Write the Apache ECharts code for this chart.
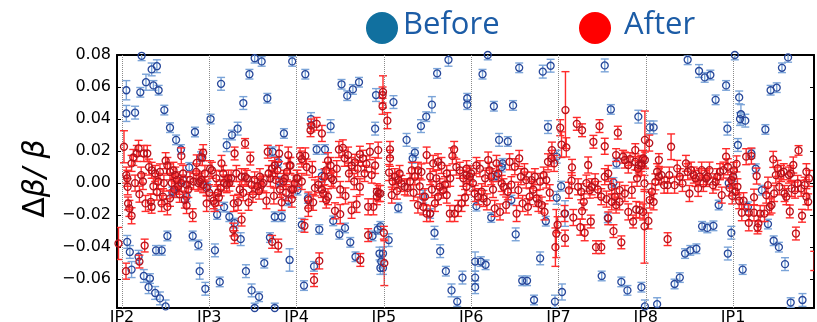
<!DOCTYPE html>
<html>
<head>
<meta charset="utf-8">
<script src="https://cdn.jsdelivr.net/npm/echarts@6/dist/echarts.min.js"></script>
<style>
  html, body { margin: 0; padding: 0; background: #fff; }
  #main { width: 817px; height: 322px; }
</style>
</head>
<body>
<div id="main"></div>
<script>
// IP markers along the ring, position in octants measured from IP2
const ipNames = ['IP2', 'IP3', 'IP4', 'IP5', 'IP6', 'IP7', 'IP8', 'IP1']
const ipPos = [0, 1, 2, 3, 4, 5, 6, 7]
const yTicks = [-0.06, -0.04, -0.02, 0, 0.02, 0.04, 0.06, 0.08]

// [s, dbeta/beta, error] before correction
const before = [
  [0.05, 0.058, 0.006], [0.05, 0.0435, 0.005], [0.15, 0.044, 0.004], [0.21, 0.0567, 0.003], [0.225, 0.0795, 0.003],
  [0.275, 0.063, 0.005], [0.34, 0.071, 0.004], [0.36, 0.061, 0.003], [0.40, 0.073, 0.004], [0.42, 0.058, 0.003],
  [0.485, 0.0456, 0.003], [0.55, 0.0346, 0.003], [0.62, 0.027, 0.003], [0.675, 0.021, 0.003], [0.905, 0.0165, 0.003],
  [0.836, 0.0319, 0.003], [0.06, -0.0367, 0.004], [0.09, -0.043, 0.004], [0.11, -0.054, 0.005], [0.19, -0.046, 0.004],
  [0.25, -0.058, 0.004], [0.305, -0.065, 0.004], [0.32, -0.0596, 0.003], [0.38, -0.0686, 0.004], [0.435, -0.072, 0.004],
  [0.50, -0.077, 0.004], [0.39, -0.042, 0.003], [0.455, -0.042, 0.003], [0.52, -0.033, 0.003], [0.576, -0.0056, 0.003],
  [0.81, -0.033, 0.003], [0.875, -0.0386, 0.003], [0.89, -0.055, 0.005], [0.955, -0.066, 0.004], [0.59, -0.0054, 0.003],
  [0.70, 0.0019, 0.003], [0.77, 0.0098, 0.003], [0.74, -0.0085, 0.003], [0.98, -0.002, 0.003],
  [1.015, 0.040, 0.003], [1.065, -0.042, 0.004], [1.12, -0.0617, 0.003], [1.135, 0.062, 0.004], [1.09, -0.0196, 0.003],
  [1.17, -0.015, 0.003], [1.2, 0.0237, 0.004], [1.26, 0.030, 0.003], [1.325, 0.034, 0.004], [1.23, -0.021, 0.003],
  [1.29, -0.025, 0.003], [1.36, -0.035, 0.004], [1.39, 0.050, 0.004], [1.46, 0.068, 0.003], [1.52, 0.078, 0.003],
  [1.60, 0.076, 0.003], [1.42, -0.055, 0.004], [1.485, -0.067, 0.004], [1.57, -0.071, 0.003], [1.52, -0.078, 0.003],
  [1.75, -0.078, 0.003], [1.665, 0.053, 0.003], [1.63, -0.050, 0.003], [1.695, -0.034, 0.003], [1.725, 0.0196, 0.003],
  [1.79, 0.013, 0.003], [1.75, -0.021, 0.003], [1.83, -0.021, 0.003], [1.855, 0.031, 0.003], [1.92, -0.048, 0.007],
  [1.95, 0.076, 0.003], [1.905, -0.011, 0.003], [1.8, 0.001, 0.003],
  [2.10, 0.068, 0.003], [2.515, 0.0617, 0.003], [2.58, 0.0546, 0.003], [2.645, 0.0585, 0.003], [2.715, 0.063, 0.003],
  [2.91, 0.055, 0.004], [3.11, 0.0506, 0.004], [2.90, 0.034, 0.004], [2.165, 0.040, 0.004], [2.39, 0.0356, 0.004],
  [2.23, 0.021, 0.003], [2.325, 0.021, 0.003], [2.29, 0.0044, 0.004], [2.06, -0.026, 0.004], [2.26, -0.029, 0.003],
  [2.42, -0.0236, 0.003], [2.49, -0.032, 0.003], [2.555, -0.028, 0.003], [2.615, -0.037, 0.003], [2.675, -0.046, 0.003],
  [2.20, -0.052, 0.003], [2.085, -0.064, 0.003], [2.87, -0.033, 0.003], [2.93, -0.029, 0.003], [2.96, -0.027, 0.003],
  [2.95, -0.044, 0.004], [2.97, -0.049, 0.004], [2.96, -0.053, 0.004], [2.99, -0.044, 0.004], [2.99, -0.053, 0.004],
  [3.055, -0.0356, 0.004], [3.165, -0.0154, 0.003], [3.26, 0.027, 0.004], [3.355, 0.019, 0.003], [3.33, 0.0154, 0.003],
  [3.425, 0.0356, 0.004], [3.485, 0.0415, 0.003], [3.55, 0.049, 0.005], [3.61, 0.0685, 0.003], [3.74, 0.077, 0.004],
  [3.45, -0.0085, 0.004], [3.53, -0.019, 0.003], [3.58, -0.031, 0.004], [3.645, -0.0425, 0.004], [3.71, -0.055, 0.003],
  [3.775, -0.067, 0.004], [3.84, -0.074, 0.003], [3.90, -0.059, 0.004], [3.955, 0.053, 0.003], [3.955, 0.049, 0.003],
  [2.01, -0.0044, 0.003], [2.13, -0.0096, 0.003],
  [4.13, 0.068, 0.003], [4.19, 0.08, 0.003], [4.26, 0.048, 0.003], [4.48, 0.0485, 0.003], [4.55, 0.072, 0.003],
  [4.32, 0.027, 0.004], [4.42, 0.026, 0.003], [4.82, 0.0696, 0.004], [4.91, 0.0733, 0.004], [4.88, 0.035, 0.004],
  [4.06, -0.0144, 0.003], [4.23, -0.0215, 0.003], [4.36, 0.0123, 0.003], [4.29, 0.0044, 0.003], [4.51, -0.032, 0.004],
  [4.46, -0.0106, 0.003], [4.79, -0.047, 0.004], [4.855, -0.0238, 0.003], [4.045, -0.049, 0.006], [4.11, -0.049, 0.003],
  [4.165, -0.051, 0.003], [4.045, -0.059, 0.004], [4.045, -0.065, 0.004], [4.585, -0.061, 0.003], [4.64, -0.061, 0.003],
  [4.72, -0.073, 0.003], [4.96, -0.074, 0.004], [5.04, -0.068, 0.005], [4.98, -0.0092, 0.004], [5.03, -0.0019, 0.003],
  [4.98, 0.0165, 0.004], [5.075, -0.019, 0.008], [5.495, -0.058, 0.003], [5.565, -0.0217, 0.003], [5.60, 0.046, 0.003],
  [5.53, 0.0735, 0.004], [5.665, 0.0123, 0.003], [5.63, 0.0004, 0.003], [5.72, -0.0617, 0.003], [5.79, -0.067, 0.003],
  [5.915, 0.0415, 0.004], [5.95, -0.065, 0.003], [4.35, 0.01, 0.003],
  [6.045, 0.0348, 0.004], [6.09, 0.0348, 0.004], [5.99, -0.077, 0.004], [6.13, -0.0756, 0.004], [6.48, 0.077, 0.003],
  [6.61, 0.070, 0.004], [6.675, 0.066, 0.003], [6.74, 0.0675, 0.003], [6.80, 0.052, 0.003], [6.92, 0.061, 0.003],
  [6.935, 0.034, 0.004], [7.07, 0.0535, 0.004], [7.08, 0.040, 0.004], [7.09, 0.043, 0.006], [7.14, 0.039, 0.004],
  [7.055, 0.0238, 0.004], [7.02, 0.08, 0.003], [7.21, 0.0185, 0.003], [7.26, 0.009, 0.003], [7.37, 0.0335, 0.003],
  [7.43, 0.058, 0.003], [7.50, 0.0596, 0.003], [7.56, 0.072, 0.003], [7.63, 0.0785, 0.003], [6.835, -0.0137, 0.003],
  [6.645, -0.027, 0.003], [6.705, -0.028, 0.003], [6.775, -0.0267, 0.003], [6.45, -0.044, 0.003], [6.51, -0.042, 0.003],
  [6.58, -0.041, 0.003], [6.33, -0.063, 0.003], [6.39, -0.059, 0.003], [6.94, -0.044, 0.004], [6.98, -0.031, 0.004],
  [7.11, -0.054, 0.003], [7.17, -0.0148, 0.003], [7.33, -0.0044, 0.003], [7.40, -0.0256, 0.003], [7.465, -0.036, 0.003],
  [7.525, -0.040, 0.003], [7.595, -0.0506, 0.004], [7.66, -0.0746, 0.003], [7.795, -0.073, 0.004], [6.95, 0.0, 0.003],
  [7.0, 0.004, 0.003]
]

// [s, dbeta/beta, error] after correction
const after = [
  [-0.04, -0.0377, 0.01], [0.023, 0.0227, 0.01], [0.046, -0.055, 0.005], [0.05, 0.005, 0.005], [0.06, 0.003, 0.005],
  [0.065, -0.0023, 0.005], [0.07, -0.0127, 0.004], [0.085, -0.0158, 0.005], [0.11, -0.0204, 0.005], [0.11, 0.0123, 0.005],
  [0.17, 0.0185, 0.005], [0.19, 0.0217, 0.005], [0.2, -0.0069, 0.005], [0.22, 0.005, 0.005], [0.25, 0.0185, 0.005],
  [0.29, 0.0185, 0.005], [0.27, -0.0127, 0.005], [0.33, -0.0117, 0.005], [0.34, -0.0148, 0.004], [0.26, -0.039, 0.004],
  [0.2, -0.049, 0.004], [0.31, 0.01, 0.005], [0.34, 0.008, 0.005], [0.38, 0.006, 0.005], [0.435, 0.007, 0.005],
  [0.416, 0.001, 0.005], [0.50, 0.014, 0.005], [0.52, 0.011, 0.005], [0.55, 0.007, 0.005], [0.59, 0.008, 0.005],
  [0.61, 0.005, 0.005], [0.40, -0.0056, 0.005], [0.454, -0.0127, 0.005], [0.47, -0.0085, 0.005], [0.52, -0.0148, 0.005],
  [0.55, -0.0095, 0.005], [0.57, 0.0, 0.005], [0.63, 0.002, 0.005], [0.645, -0.002, 0.005], [0.68, 0.0, 0.005],
  [0.68, 0.017, 0.005], [0.74, -0.001, 0.005], [0.76, -0.004, 0.005], [0.78, 0.002, 0.005], [0.82, 0.001, 0.005],
  [0.874, 0.0, 0.005], [0.89, 0.001, 0.005], [0.91, 0.002, 0.005], [0.93, -0.001, 0.005], [0.81, -0.02, 0.004],
  [0.74, -0.014, 0.005], [0.72, -0.0106, 0.005], [0.856, 0.0126, 0.005], [0.93, 0.019, 0.005], [0.92, 0.016, 0.005],
  [0.97, -0.003, 0.005], [1.01, 0.009, 0.005], [1.03, 0.008, 0.005], [0.97, -0.0127, 0.005], [1.05, -0.011, 0.005],
  [1.065, -0.0127, 0.005], [1.10, -0.006, 0.005], [1.11, -0.009, 0.005], [1.14, 0.0123, 0.005], [1.17, 0.0, 0.005],
  [1.2, -0.001, 0.005], [1.22, 0.003, 0.005], [1.25, 0.003, 0.005], [1.29, 0.0185, 0.004], [1.28, -0.0127, 0.005],
  [1.275, -0.029, 0.004], [1.29, -0.0337, 0.004], [1.33, -0.012, 0.005], [1.37, 0.004, 0.005], [1.41, 0.004, 0.005],
  [1.37, -0.0228, 0.004], [1.41, 0.0248, 0.003], [1.47, 0.0153, 0.004], [1.45, -0.012, 0.005], [1.485, -0.001, 0.005],
  [1.52, 0.002, 0.005], [1.55, -0.002, 0.005], [1.57, -0.005, 0.005], [1.60, -0.001, 0.005], [1.655, -0.011, 0.005],
  [1.70, 0.0029, 0.005], [1.72, 0.009, 0.005], [1.75, 0.011, 0.005], [1.78, 0.008, 0.005], [1.81, -0.004, 0.005],
  [1.83, -0.012, 0.005], [1.866, 0.003, 0.005], [1.89, 0.007, 0.005], [1.92, 0.011, 0.005], [1.94, -0.004, 0.005],
  [1.72, -0.0367, 0.004], [1.79, -0.039, 0.004], [1.67, 0.0196, 0.004], [1.80, 0.0185, 0.005], [1.905, 0.0175, 0.005],
  [0.13, 0.016, 0.005], [0.15, 0.0, 0.005], [0.24, 0.001, 0.005], [0.36, -0.002, 0.005], [0.48, 0.0, 0.005],
  [0.6, -0.004, 0.005], [0.66, -0.007, 0.005], [0.7, 0.006, 0.005], [0.85, 0.007, 0.005], [0.95, 0.006, 0.005],
  [1.0, -0.006, 0.005], [1.08, 0.003, 0.005], [1.13, -0.003, 0.005], [1.16, 0.006, 0.005], [1.23, 0.0, 0.005],
  [1.31, 0.006, 0.005], [1.35, -0.004, 0.005], [1.39, -0.006, 0.005], [1.43, 0.003, 0.005], [1.5, -0.007, 0.005],
  [1.58, 0.004, 0.005], [1.62, 0.0, 0.005], [1.68, 0.006, 0.005], [1.74, -0.008, 0.005], [1.76, 0.002, 0.005],
  [1.85, 0.001, 0.005], [1.88, -0.006, 0.005],
  [1.93, 0.011, 0.005], [1.96, -0.004, 0.005], [1.98, 0.0, 0.005], [2.0, 0.003, 0.005], [2.01, 0.003, 0.005],
  [1.945, -0.010, 0.005], [2.04, 0.017, 0.005], [2.06, 0.015, 0.005], [2.10, 0.017, 0.005], [2.115, 0.010, 0.005],
  [2.135, -0.0106, 0.005], [2.135, -0.0158, 0.005], [2.16, 0.033, 0.004], [2.17, 0.036, 0.004], [2.23, 0.037, 0.004],
  [2.29, 0.031, 0.005], [2.18, 0.0085, 0.005], [2.09, -0.0267, 0.004], [2.26, -0.0486, 0.005], [2.20, -0.0606, 0.004],
  [2.21, -0.003, 0.005], [2.25, -0.001, 0.005], [2.29, -0.004, 0.005], [2.305, -0.0065, 0.005], [2.34, -0.0106, 0.005],
  [2.36, -0.0085, 0.005], [2.42, 0.0019, 0.005], [2.32, 0.004, 0.005], [2.34, 0.008, 0.005], [2.36, 0.014, 0.005],
  [2.39, 0.011, 0.005], [2.44, -0.0173, 0.005], [2.50, -0.0194, 0.006], [2.485, 0.021, 0.005], [2.53, 0.022, 0.005],
  [2.55, 0.0155, 0.005], [2.59, 0.0175, 0.005], [2.63, 0.011, 0.005], [2.67, 0.013, 0.005], [2.725, 0.018, 0.005],
  [2.76, 0.0155, 0.005], [2.84, 0.0196, 0.005], [2.935, 0.0206, 0.005], [2.63, -0.017, 0.005], [2.687, -0.0133, 0.005],
  [2.725, -0.0023, 0.005], [2.78, 0.006, 0.005], [2.82, -0.0148, 0.005], [2.88, -0.0148, 0.005], [2.92, -0.0085, 0.005],
  [2.82, -0.0325, 0.004], [2.73, -0.048, 0.004], [2.92, -0.0054, 0.005], [2.94, -0.0065, 0.005], [2.96, -0.0065, 0.005],
  [2.99, 0.057, 0.01], [2.985, 0.055, 0.005], [2.985, 0.048, 0.005], [3.04, 0.039, 0.005], [3.0, -0.031, 0.004],
  [3.005, -0.05, 0.014], [3.07, 0.021, 0.005], [3.07, 0.0155, 0.005], [3.06, 0.0066, 0.005], [3.09, -0.0075, 0.005],
  [3.125, 0.004, 0.005], [3.165, 0.002, 0.005], [3.20, -0.0002, 0.005], [3.24, -0.0023, 0.005], [3.30, 0.001, 0.005],
  [3.32, 0.008, 0.005], [3.355, 0.004, 0.005], [3.39, 0.008, 0.005], [3.43, 0.007, 0.005], [3.47, -0.0085, 0.005],
  [3.49, 0.0175, 0.005], [3.53, 0.004, 0.005], [3.565, 0.0123, 0.005], [3.62, 0.0133, 0.005], [3.64, -0.0023, 0.005],
  [3.68, -0.0044, 0.005], [3.72, 0.006, 0.005], [3.785, 0.017, 0.005], [3.805, 0.021, 0.005], [3.83, 0.01, 0.005],
  [3.87, 0.008, 0.005], [3.91, 0.003, 0.005], [3.947, 0.005, 0.005], [3.947, -0.0023, 0.005], [3.39, -0.0137, 0.005],
  [3.45, -0.0148, 0.005], [3.49, -0.019, 0.005], [3.53, -0.019, 0.005], [3.585, -0.0127, 0.005], [3.62, -0.0085, 0.005],
  [3.72, -0.0075, 0.005], [3.756, -0.019, 0.005], [3.81, -0.019, 0.005], [3.85, -0.0158, 0.005], [3.89, -0.0127, 0.005],
  [2.06, 0.001, 0.005], [2.19, -0.012, 0.005], [2.4, 0.003, 0.005], [2.46, 0.009, 0.005], [2.5, -0.004, 0.005],
  [2.56, -0.008, 0.005], [2.6, 0.006, 0.005], [2.66, 0.001, 0.005], [2.7, 0.009, 0.005], [2.8, 0.012, 0.005],
  [2.86, 0.005, 0.005], [2.9, 0.011, 0.005], [3.1, 0.001, 0.005], [3.15, -0.005, 0.005], [3.18, 0.006, 0.005],
  [3.27, -0.003, 0.005], [3.34, -0.006, 0.005], [3.41, -0.002, 0.005], [3.55, -0.004, 0.005], [3.6, 0.003, 0.005],
  [3.66, 0.011, 0.005], [3.7, -0.001, 0.005], [3.76, 0.003, 0.005], [3.93, -0.009, 0.005],
  [3.947, 0.009, 0.005], [3.985, 0.004, 0.005], [4.02, 0.0, 0.005], [4.04, -0.0065, 0.005], [4.08, -0.0085, 0.005],
  [4.10, 0.009, 0.005], [4.12, -0.0054, 0.005], [4.14, -0.0096, 0.005], [4.18, -0.0117, 0.005], [4.195, 0.0144, 0.005],
  [4.21, 0.008, 0.005], [4.23, 0.004, 0.005], [4.27, -0.0158, 0.005], [4.29, 0.0123, 0.005], [4.33, -0.018, 0.005],
  [4.35, -0.0002, 0.005], [4.37, -0.0023, 0.005], [4.40, -0.0137, 0.005], [4.42, -0.0054, 0.005], [4.44, 0.0133, 0.005],
  [4.50, 0.0102, 0.005], [4.52, -0.019, 0.005], [4.54, -0.0044, 0.005], [4.55, 0.0154, 0.005], [4.59, -0.0127, 0.005],
  [4.61, 0.0071, 0.005], [4.63, 0.0019, 0.005], [4.65, -0.0148, 0.005], [4.67, -0.0085, 0.005], [4.69, 0.0019, 0.005],
  [4.73, 0.004, 0.005], [4.75, -0.0096, 0.005], [4.77, -0.0127, 0.005], [4.81, -0.0137, 0.005], [4.83, 0.005, 0.005],
  [4.84, -0.018, 0.005], [4.86, 0.0019, 0.005], [4.88, 0.0133, 0.005], [4.92, 0.0154, 0.005], [4.925, 0.0206, 0.005],
  [4.95, 0.0123, 0.005], [4.965, -0.04, 0.012], [4.975, -0.0315, 0.015], [4.99, -0.026, 0.005], [5.02, 0.0346, 0.005],
  [5.035, 0.024, 0.008], [5.08, 0.0456, 0.024], [5.09, 0.0223, 0.006], [5.07, -0.019, 0.005], [5.075, -0.0344, 0.005],
  [5.12, -0.0045, 0.005], [5.15, 0.0015, 0.005], [5.155, 0.0098, 0.005], [5.21, 0.037, 0.004], [5.27, 0.033, 0.004],
  [5.225, -0.0023, 0.005], [5.26, -0.0054, 0.005], [5.29, -0.0117, 0.005], [5.32, 0.0, 0.005], [5.36, -0.0044, 0.005],
  [5.38, -0.0023, 0.005], [5.42, 0.0008, 0.005], [5.49, -0.0085, 0.005], [5.53, 0.004, 0.005], [5.57, 0.006, 0.005],
  [5.61, -0.0023, 0.005], [5.645, -0.0085, 0.005], [5.70, -0.0044, 0.005], [5.76, 0.0144, 0.005], [5.80, 0.0113, 0.005],
  [5.84, -0.0044, 0.005], [5.88, 0.0133, 0.005], [5.92, 0.0113, 0.005], [5.17, -0.0215, 0.005], [5.25, -0.0275, 0.005],
  [5.30, -0.031, 0.005], [5.37, -0.024, 0.004], [5.27, -0.0175, 0.005], [5.34, 0.0113, 0.005], [5.40, 0.0258, 0.004],
  [5.47, 0.0356, 0.004], [5.53, 0.023, 0.005], [5.68, 0.0315, 0.004], [5.43, -0.040, 0.004], [5.49, -0.040, 0.004],
  [5.63, -0.030, 0.004], [5.72, -0.037, 0.004], [5.57, -0.022, 0.004], [5.61, -0.0117, 0.005], [5.66, -0.0137, 0.005],
  [5.70, -0.0117, 0.005], [5.76, -0.0065, 0.005], [5.80, -0.018, 0.005], [5.855, -0.024, 0.004], [5.89, -0.0165, 0.005],
  [5.66, 0.0175, 0.004], [5.74, 0.0165, 0.004], [5.82, 0.015, 0.004], [5.88, 0.0206, 0.004], [5.95, 0.011, 0.006],
  [4.0, 0.006, 0.005], [4.06, 0.011, 0.005], [4.16, 0.003, 0.005], [4.25, -0.004, 0.005], [4.31, 0.006, 0.005],
  [4.46, -0.001, 0.005], [4.57, 0.004, 0.005], [4.71, -0.004, 0.005], [4.79, 0.001, 0.005], [4.9, -0.006, 0.005],
  [5.45, -0.004, 0.005], [5.55, -0.01, 0.005], [5.9, 0.003, 0.005],
  [5.91, 0.009, 0.005], [5.95, 0.0123, 0.005], [5.97, 0.0154, 0.005], [5.99, 0.0144, 0.005], [5.985, -0.0002, 0.005],
  [5.93, -0.0169, 0.005], [5.97, -0.018, 0.005], [5.985, -0.027, 0.023], [6.03, -0.0236, 0.005], [5.99, 0.027, 0.018],
  [6.04, 0.025, 0.005], [6.045, -0.0106, 0.005], [6.07, -0.0054, 0.005], [6.09, -0.0117, 0.005], [6.11, 0.0008, 0.005],
  [6.13, 0.0071, 0.005], [6.15, 0.004, 0.005], [6.18, 0.005, 0.005], [6.21, -0.0013, 0.005], [6.25, -0.0013, 0.005],
  [6.27, 0.005, 0.005], [6.29, 0.0227, 0.008], [6.15, 0.0144, 0.004], [6.25, -0.035, 0.004], [6.33, -0.0013, 0.005],
  [6.36, 0.0092, 0.005], [6.39, 0.004, 0.005], [6.42, -0.0002, 0.005], [6.46, 0.0123, 0.005], [6.48, 0.0071, 0.005],
  [6.50, -0.0065, 0.005], [6.52, 0.0081, 0.005], [6.55, 0.005, 0.005], [6.57, 0.0029, 0.005], [6.60, -0.0033, 0.005],
  [6.62, 0.004, 0.005], [6.64, 0.0081, 0.005], [6.66, -0.0002, 0.005], [6.69, 0.0029, 0.005], [6.71, 0.004, 0.005],
  [6.73, 0.0081, 0.005], [6.77, -0.0013, 0.005], [6.80, 0.0008, 0.005], [6.82, 0.004, 0.005], [6.85, 0.0071, 0.005],
  [6.87, -0.0075, 0.005], [6.89, 0.0081, 0.005], [6.92, 0.0165, 0.005], [6.94, 0.0102, 0.005], [6.98, 0.0019, 0.005],
  [7.0, 0.004, 0.005], [7.05, -0.0023, 0.005], [7.03, -0.0054, 0.005], [7.07, -0.011, 0.005], [7.12, -0.011, 0.005],
  [7.10, -0.0185, 0.005], [7.15, 0.0165, 0.005], [7.21, 0.0169, 0.005], [7.18, -0.0185, 0.005], [7.24, -0.0185, 0.005],
  [7.18, -0.0248, 0.005], [7.24, -0.0088, 0.005], [7.27, 0.0044, 0.005], [7.29, -0.0252, 0.005], [7.31, -0.019, 0.005],
  [7.36, -0.019, 0.005], [7.38, -0.0075, 0.005], [7.40, -0.0013, 0.005], [7.42, -0.0148, 0.005], [7.44, -0.0137, 0.005],
  [7.46, 0.0148, 0.005], [7.47, -0.0065, 0.005], [7.49, 0.005, 0.005], [7.51, 0.0092, 0.005], [7.53, -0.0023, 0.005],
  [7.55, 0.006, 0.005], [7.58, 0.0071, 0.005], [7.59, -0.0065, 0.005], [7.61, -0.0085, 0.005], [7.64, 0.005, 0.005],
  [7.66, 0.006, 0.005], [7.67, -0.0033, 0.005], [7.69, 0.0113, 0.005], [7.71, -0.0044, 0.005], [7.74, -0.0002, 0.005],
  [7.78, -0.0033, 0.005], [7.82, -0.0013, 0.005], [7.84, 0.0071, 0.005], [7.84, -0.0085, 0.005], [7.86, -0.0117, 0.005],
  [7.87, 0.0029, 0.005], [7.65, -0.0177, 0.004], [7.72, -0.0315, 0.004], [7.75, 0.0204, 0.003], [7.79, -0.0204, 0.004],
  [7.93, -0.0486, 0.006], [7.28, -0.0277, 0.004], [6.96, -0.003, 0.005], [7.01, 0.008, 0.005], [7.04, 0.012, 0.005],
  [6.99, -0.008, 0.005]
]

const chart = echarts.init(document.getElementById('main'), null, { renderer: 'canvas' })

// vertical bar with caps, drawn through the axes
function errorBar (color) {
  return function (params, api) {
    const x = api.value(0)
    const y = api.value(1)
    const e = api.value(2)
    const hi = api.coord([x, y + e])
    const lo = api.coord([x, y - e])
    const cap = 4
    const style = { stroke: color, lineWidth: 1.4 }
    return {
      type: 'group',
      children: [
        { type: 'line', shape: { x1: hi[0], y1: hi[1], x2: lo[0], y2: lo[1] }, style: style },
        { type: 'line', shape: { x1: hi[0] - cap, y1: hi[1], x2: hi[0] + cap, y2: hi[1] }, style: style },
        { type: 'line', shape: { x1: lo[0] - cap, y1: lo[1], x2: lo[0] + cap, y2: lo[1] }, style: style }
      ]
    }
  }
}

const tickFmt = v => (v < 0 ? '\u2212' : '') + Math.abs(v).toFixed(2)
const frame = { show: true, onZero: false, lineStyle: { color: '#000', width: 2 } }
const labelFont = { color: '#000', fontSize: 16, fontFamily: 'DejaVu Sans' }

chart.setOption({
  animation: false,
  backgroundColor: '#fff',
  grid: { left: 117, right: 3, top: 55, bottom: 14, outerBoundsMode: 'none' },
  xAxis: [{
    type: 'value',
    min: -0.057,
    max: 7.927,
    position: 'bottom',
    axisLine: frame,
    axisTick: { show: false },
    splitLine: { show: false },
    axisLabel: Object.assign({
      customValues: ipPos,
      margin: 2,
      formatter: v => ipNames[ipPos.indexOf(Math.round(v))]
    }, labelFont)
  }, {
    type: 'value',
    min: -0.057,
    max: 7.927,
    position: 'top',
    axisLine: frame,
    axisTick: { show: false },
    axisLabel: { show: false },
    splitLine: { show: false }
  }],
  yAxis: [{
    type: 'value',
    min: -0.078,
    max: 0.08,
    position: 'left',
    axisLine: frame,
    axisTick: { show: true, inside: true, length: 4, customValues: yTicks, lineStyle: { color: '#000', width: 1 } },
    axisLabel: Object.assign({ customValues: yTicks, margin: 6, formatter: tickFmt }, labelFont),
    splitLine: { show: false },
    name: '{n|Δ}{i|β/ β}',
    nameLocation: 'middle',
    nameRotate: 90,
    nameGap: 52,
    nameTextStyle: {
      padding: [0, 0, 0, 6],
      rich: {
        n: { fontSize: 30, fontFamily: 'DejaVu Sans', color: '#000' },
        i: { fontSize: 30, fontFamily: 'DejaVu Sans', fontStyle: 'italic', color: '#000' }
      }
    }
  }, {
    type: 'value',
    min: -0.078,
    max: 0.08,
    position: 'right',
    axisLine: frame,
    axisTick: { show: true, inside: true, length: 4, customValues: yTicks, lineStyle: { color: '#000', width: 1 } },
    axisLabel: { show: false },
    splitLine: { show: false }
  }],
  graphic: [
    { type: 'circle', shape: { cx: 382, cy: 28, r: 16 }, style: { fill: '#11709f' } },
    { type: 'text', left: 403, top: 10, style: { text: 'Before', font: '31px "Open Sans"', fill: '#1c5ca6' } },
    { type: 'circle', shape: { cx: 595, cy: 28, r: 16 }, style: { fill: '#ff0000' } },
    { type: 'text', left: 624, top: 10, style: { text: 'After', font: '31px "Open Sans"', fill: '#1c5ca6' } }
  ],
  series: [
    {
      name: 'Before',
      type: 'custom',
      renderItem: errorBar('#7ba4d8'),
      encode: { x: 0, y: 1 },
      data: before,
      clip: true,
      z: 2,
      markLine: {
        silent: true,
        symbol: ['none', 'none'],
        label: { show: false },
        lineStyle: { type: 'dotted', color: '#8a8a8a', width: 1 },
        data: ipPos.map(v => ({ xAxis: v }))
      }
    },
    {
      name: 'Before',
      type: 'scatter',
      data: before.map(d => [d[0], d[1]]),
      symbol: 'circle',
      symbolSize: 7,
      clip: true,
      z: 3,
      itemStyle: { color: 'rgba(0,0,0,0)', borderColor: '#27479a', borderWidth: 1.3, opacity: 1 }
    },
    {
      name: 'After',
      type: 'custom',
      renderItem: errorBar('#ff2a2a'),
      encode: { x: 0, y: 1 },
      data: after,
      clip: true,
      z: 4
    },
    {
      name: 'After',
      type: 'scatter',
      data: after.map(d => [d[0], d[1]]),
      symbol: 'circle',
      symbolSize: 7,
      clip: true,
      z: 5,
      itemStyle: { color: 'rgba(0,0,0,0)', borderColor: '#b5121b', borderWidth: 1.3, opacity: 1 }
    }
  ]
})
</script>
</body>
</html>
